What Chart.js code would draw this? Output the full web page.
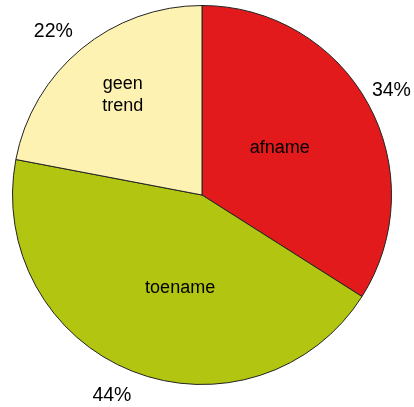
<!DOCTYPE html>
<html>
<head>
<meta charset="utf-8">
<script src="https://cdn.jsdelivr.net/npm/chart.js@4/dist/chart.umd.min.js"></script>
<style>
html,body{margin:0;padding:0;background:#fff;}
#wrap{width:414px;height:407px;}
</style>
</head>
<body>
<div id="wrap"><canvas id="c" width="414" height="407"></canvas></div>
<script>
const categories = ["afname", "toename", "geen\ntrend"];
const values = [34, 44, 22];
const percentLabels = ["34%", "44%", "22%"];
const colors = ["#e31a1c", "#b2c510", "#fdf2b1"];

const labelPlugin = {
  id: 'labels',
  afterDatasetsDraw(chart) {
    const ctx = chart.ctx;
    const meta = chart.getDatasetMeta(0);
    const innerFactor = [0.485, 0.498, 0.68];
    const innerAngleShift = [-3.3, -8.2, 1.7];
    const outerFactor = [1.145, 1.155, 1.17];
    const outerAngleShift = [-0.4, 2.7, -2.5];
    const dy = 1.5;
    ctx.save();
    ctx.fillStyle = '#000';
    ctx.textAlign = 'center';
    ctx.textBaseline = 'middle';
    meta.data.forEach((arc, i) => {
      const p = arc.getProps(['x','y','startAngle','endAngle','outerRadius'], true);
      const mid = (p.startAngle + p.endAngle) / 2;
      const a = mid + innerAngleShift[i] * Math.PI / 180;
      const r = p.outerRadius * innerFactor[i];
      const lines = categories[i].split('\n');
      const lh = 22;
      const cx = p.x + Math.cos(a) * r;
      const cy = p.y + Math.sin(a) * r + dy;
      ctx.font = '18px "Liberation Sans", Arial, sans-serif';
      lines.forEach((ln, j) => {
        ctx.fillText(ln, cx, cy + (j - (lines.length - 1) / 2) * lh);
      });
      const ao = mid + outerAngleShift[i] * Math.PI / 180;
      const ro = p.outerRadius * outerFactor[i];
      ctx.font = '19.5px "Liberation Sans", Arial, sans-serif';
      ctx.fillText(percentLabels[i], p.x + Math.cos(ao) * ro, p.y + Math.sin(ao) * ro + dy);
    });
    ctx.restore();
  }
};

new Chart(document.getElementById('c'), {
  type: 'pie',
  data: {
    labels: categories,
    datasets: [{
      data: values,
      backgroundColor: colors,
      borderColor: '#222',
      borderWidth: 1
    }]
  },
  options: {
    responsive: false,
    animation: false,
    layout: { padding: { left: 12, right: 22, top: 5, bottom: 22 } },
    plugins: {
      legend: { display: false },
      tooltip: { enabled: false }
    }
  },
  plugins: [labelPlugin]
});
</script>
</body>
</html>
